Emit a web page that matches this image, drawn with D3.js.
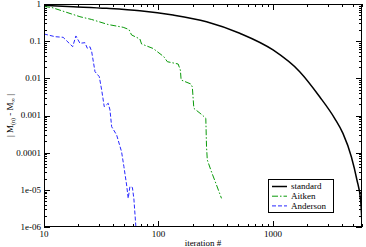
<!DOCTYPE html>
<html>
<head>
<meta charset="utf-8">
<script src="https://cdn.jsdelivr.net/npm/d3@7"></script>
<style>
    body { margin: 0; background: #fff; }
    svg { display: block; font-family: 'Liberation Serif', 'DejaVu Serif', serif; }
</style>
</head>
<body>
<div id="chart-container"></div>
<script>
// values (iteration #, |M(n) - M_inf|)
const standardIter = [10, 11.7, 18, 35.2, 68.8, 134, 263, 513, 1002, 1714, 2560, 3460, 4090, 4842, 5420, 5835, 6000];
const standardErr = [0.92, 0.90, 0.846, 0.766, 0.66, 0.506, 0.334, 0.163, 0.0579, 0.0151, 0.0032, 0.00084, 0.00033, 7.8e-5, 1.84e-5, 5.3e-6, 1.2e-6];

const aitkenIter = [10, 11.7, 20.6, 26.1, 36.2, 49.2, 55.2, 58.2, 68.8, 71.2, 89.9, 111.4, 119.6, 148.6, 155.3, 157.8, 191.8, 197.6, 203.7, 241.5, 259.2, 262.9, 267.1, 290.8, 321.4, 355.3];
const aitkenErr = [0.856, 0.805, 0.455, 0.383, 0.281, 0.236, 0.206, 0.147, 0.1144, 0.0839, 0.0635, 0.0382, 0.028, 0.0243, 0.0168, 0.00902, 0.00704, 0.00585, 0.00156, 0.00103, 0.00084, 1.45e-4, 6.36e-5, 3.02e-5, 1.35e-5, 5.9e-6];

const andersonIter = [10, 12.5, 14.7, 17.8, 19.0, 20.6, 22.8, 23.9, 25.2, 26.1, 27.9, 30.4, 31.9, 33.6, 36.4, 37.7, 39.0, 43.1, 47.6, 49.9, 52.7, 54.4, 56.3, 59.2, 61.0, 63.5];
const andersonErr = [0.156, 0.132, 0.127, 0.071, 0.138, 0.0877, 0.091, 0.0643, 0.071, 0.0521, 0.0151, 0.0111, 0.00486, 0.00173, 0.00213, 0.00141, 5.0e-4, 3.0e-4, 1.06e-4, 4.2e-5, 1.35e-5, 5.9e-6, 1.22e-5, 1.16e-5, 5.7e-6, 1e-6];

const xTicks = [10, 100, 1000];
const yTicks = [1, 0.1, 0.01, 0.001, 0.0001, 1e-5, 1e-6];
const yTickLabels = ['1', '0.1', '0.01', '0.001', '0.0001', '1e-05', '1e-06'];
const seriesNames = ['standard', 'Aitken', 'Anderson'];

const margin = { top: 4, right: 4, bottom: 20, left: 44 };
const width = 366 - margin.left - margin.right;
const height = 247 - margin.top - margin.bottom;

const svg = d3.select('#chart-container')
    .append('svg')
    .attr('width', 366)
    .attr('height', 247);

const g = svg.append('g')
    .attr('transform', `translate(${margin.left},${margin.top})`);

const x = d3.scaleLog().domain([10, 6000]).range([0, width]);
const y = d3.scaleLog().domain([1e-6, 1]).range([height, 0]);

g.append('clipPath').attr('id', 'clip')
    .append('rect').attr('width', width).attr('height', height);

// minor ticks
const xMinor = [];
for (let d = 10; d < 6000; d *= 10) {
    for (let k = 2; k <= 9; k++) if (d * k <= 6000) xMinor.push(d * k);
}
const yMinor = [];
for (let d = 1e-6; d < 1; d *= 10) {
    for (let k = 2; k <= 9; k++) yMinor.push(d * k);
}

const tickColor = '#000';
const ticks = g.append('g').attr('stroke', tickColor).attr('stroke-width', 1);

function xTickLines(vals, len) {
    vals.forEach((v) => {
        const px = Math.round(x(v)) + 0.5;
        ticks.append('line').attr('x1', px).attr('x2', px).attr('y1', height).attr('y2', height - len);
        ticks.append('line').attr('x1', px).attr('x2', px).attr('y1', 0).attr('y2', len);
    });
}
function yTickLines(vals, len) {
    vals.forEach((v) => {
        const py = Math.round(y(v)) + 0.5;
        ticks.append('line').attr('y1', py).attr('y2', py).attr('x1', 0).attr('x2', len);
        ticks.append('line').attr('y1', py).attr('y2', py).attr('x1', width).attr('x2', width - len);
    });
}
xTickLines(xMinor, 3);
xTickLines(xTicks, 6);
yTickLines(yMinor, 3);
yTickLines(yTicks, 6);

// tick labels
g.append('g').selectAll('text').data(xTicks).join('text')
    .attr('x', (d) => x(d))
    .attr('y', height + 10)
    .attr('text-anchor', 'middle')
    .attr('font-size', 9)
    .text((d) => d);

g.append('g').selectAll('text').data(yTicks).join('text')
    .attr('x', -3)
    .attr('y', (d) => y(d))
    .attr('dy', '0.33em')
    .attr('text-anchor', 'end')
    .attr('font-size', 9)
    .text((d, i) => yTickLabels[i]);

// series
const line = d3.line()
    .x((d) => x(d[0]))
    .y((d) => y(d[1]));

const series = [
    { name: seriesNames[0], data: d3.zip(standardIter, standardErr), color: '#000', width: 1.5, dash: null },
    { name: seriesNames[1], data: d3.zip(aitkenIter, aitkenErr), color: '#0a9a0a', width: 1, dash: '6,2,1.5,2' },
    { name: seriesNames[2], data: d3.zip(andersonIter, andersonErr), color: '#2828ff', width: 1, dash: '4,2' },
];

const lines = g.append('g').attr('clip-path', 'url(#clip)');
series.forEach((s) => {
    lines.append('path')
        .datum(s.data)
        .attr('fill', 'none')
        .attr('stroke', s.color)
        .attr('stroke-width', s.width)
        .attr('stroke-dasharray', s.dash)
        .attr('d', s.name === 'standard' ? line.curve(d3.curveMonotoneX)(s.data) : line.curve(d3.curveLinear)(s.data));
});

// frame
g.append('rect')
    .attr('x', 0.5).attr('y', 0.5)
    .attr('width', width - 1).attr('height', height - 1)
    .attr('fill', 'none')
    .attr('stroke', '#000')
    .attr('stroke-width', 1);

// axis titles
g.append('text')
    .attr('x', width / 2)
    .attr('y', height + 19)
    .attr('text-anchor', 'middle')
    .attr('font-size', 9)
    .text('iteration #');

const yl = g.append('text')
    .attr('transform', `translate(${-31},${height / 2}) rotate(-90)`)
    .attr('text-anchor', 'middle')
    .attr('font-size', 9);
yl.append('tspan').text('| M');
yl.append('tspan').attr('font-size', 6).attr('dy', 2).text('(n)');
yl.append('tspan').attr('dy', -2).text(' - M');
yl.append('tspan').attr('font-size', 6).attr('dy', 2).text('∞');
yl.append('tspan').attr('dy', -2).text(' |');

// legend
const legend = g.append('g').attr('transform', `translate(${224},${175})`);
legend.append('rect')
    .attr('x', 0.5).attr('y', 0.5)
    .attr('width', 65).attr('height', 33)
    .attr('fill', '#fff')
    .attr('stroke', '#000')
    .attr('stroke-width', 1);
series.forEach((s, i) => {
    const ly = 7.5 + i * 9.7;
    legend.append('line')
        .attr('x1', 4).attr('x2', 19)
        .attr('y1', ly).attr('y2', ly)
        .attr('stroke', s.color)
        .attr('stroke-width', s.width)
        .attr('stroke-dasharray', s.dash);
    legend.append('text')
        .attr('x', 23)
        .attr('y', ly)
        .attr('dy', '0.33em')
        .attr('font-size', 9)
        .text(s.name);
});
</script>
</body>
</html>
